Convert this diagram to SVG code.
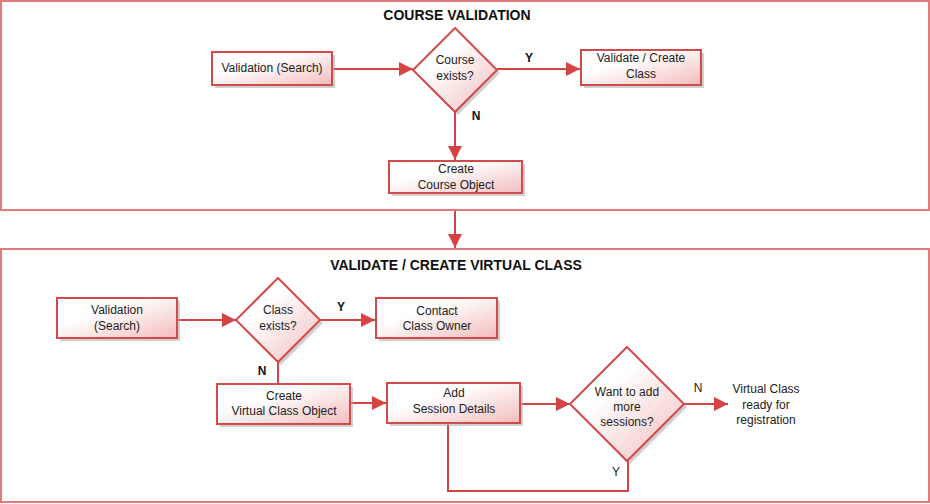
<svg xmlns="http://www.w3.org/2000/svg" width="930" height="504" viewBox="0 0 930 504">
<defs>
<linearGradient id="g" x1="0" y1="0" x2="1" y2="1">
<stop offset="0.35" stop-color="#ffffff"/>
<stop offset="1" stop-color="#f2bcbc"/>
</linearGradient>
<marker id="ah" markerUnits="userSpaceOnUse" markerWidth="16" markerHeight="16" viewBox="0 0 16 16" refX="15" refY="8" orient="auto">
<path d="M1,1 L15,8 L1,15 Z" fill="#d64343"/>
</marker>
<style>
.panel{fill:#ffffff;stroke:#e27a7a;stroke-width:2}
.box{fill:url(#g);stroke:#d24a4a;stroke-width:2}
.sh{fill:#b0b0b0;opacity:0.6}
.c{fill:none;stroke:#d64343;stroke-width:2}
.a{marker-end:url(#ah)}
text{font-family:"Liberation Sans",Arial,sans-serif;font-size:12px;fill:#222;text-anchor:middle}
.t{font-weight:bold;font-size:14px;fill:#111}
.lb{font-weight:bold;font-size:12px;fill:#111}
</style>
</defs>
<rect class="panel" x="1" y="1" width="928" height="209"/>
<rect class="panel" x="1" y="249" width="928" height="253"/>
<text class="t" x="457" y="20">COURSE VALIDATION</text>
<text class="t" x="456" y="270">VALIDATE / CREATE VIRTUAL CLASS</text>

<g id="connectors">
<line class="c a" x1="332" y1="69" x2="413" y2="69"/>
<line class="c a" x1="497" y1="69" x2="580" y2="69"/>
<line class="c a" x1="455" y1="112" x2="455" y2="160"/>
<line class="c a" x1="455" y1="211" x2="455" y2="248"/>
<line class="c a" x1="177" y1="320" x2="236" y2="320"/>
<line class="c a" x1="320" y1="320" x2="375" y2="320"/>
<line class="c" x1="278" y1="362" x2="278" y2="384"/>
<line class="c a" x1="350" y1="403" x2="386" y2="403"/>
<line class="c a" x1="520" y1="404" x2="570" y2="404"/>
<line class="c a" x1="684" y1="404" x2="728" y2="404"/>
<path class="c" d="M448,423 L448,491 L628,491 L628,461"/>
<text class="lb" x="529" y="62">Y</text>
<text class="lb" x="476" y="120">N</text>
<text class="lb" x="341" y="311">Y</text>
<text class="lb" x="262" y="375">N</text>
<text x="698" y="392">N</text>
<text x="616" y="476">Y</text>
</g>

<g id="n1">
<rect class="sh" x="215" y="55" width="120" height="33"/>
<rect class="box" x="212" y="52" width="120" height="33"/>
<text x="272" y="72">Validation (Search)</text>
</g>
<g id="d1">
<polygon class="sh" points="458,31 500,73 458,115 416,73"/>
<polygon class="box" points="455,28 497,70 455,112 413,70"/>
<text x="455" y="64">Course</text>
<text x="455" y="80">exists?</text>
</g>
<g id="n2">
<rect class="sh" x="584" y="53" width="120" height="35"/>
<rect class="box" x="581" y="50" width="120" height="35"/>
<text x="641" y="62">Validate / Create</text>
<text x="641" y="78">Class</text>
</g>
<g id="n3">
<rect class="sh" x="392" y="164" width="133" height="32"/>
<rect class="box" x="389" y="161" width="133" height="32"/>
<text x="456" y="173">Create</text>
<text x="456" y="189">Course Object</text>
</g>

<g id="n4">
<rect class="sh" x="60" y="301" width="120" height="40"/>
<rect class="box" x="57" y="298" width="120" height="40"/>
<text x="117" y="314">Validation</text>
<text x="117" y="330">(Search)</text>
</g>
<g id="d2">
<polygon class="sh" points="281,281 323,323 281,365 239,323"/>
<polygon class="box" points="278,278 320,320 278,362 236,320"/>
<text x="278" y="314">Class</text>
<text x="278" y="330">exists?</text>
</g>
<g id="n5">
<rect class="sh" x="379" y="301" width="121" height="40"/>
<rect class="box" x="376" y="298" width="121" height="40"/>
<text x="437" y="315">Contact</text>
<text x="437" y="330">Class Owner</text>
</g>
<g id="n6">
<rect class="sh" x="220" y="387" width="133" height="40"/>
<rect class="box" x="217" y="384" width="133" height="40"/>
<text x="284" y="400">Create</text>
<text x="284" y="415">Virtual Class Object</text>
</g>
<g id="n7">
<rect class="sh" x="390" y="386" width="133" height="40"/>
<rect class="box" x="387" y="383" width="133" height="40"/>
<text x="454" y="397">Add</text>
<text x="454" y="413">Session Details</text>
</g>
<g id="d3">
<polygon class="sh" points="630,350 687,407 630,464 573,407"/>
<polygon class="box" points="627,347 684,404 627,461 570,404"/>
<text x="627" y="396">Want to add</text>
<text x="627" y="411">more</text>
<text x="627" y="426">sessions?</text>
</g>
<g id="n8">
<text x="766" y="393">Virtual Class</text>
<text x="766" y="409">ready for</text>
<text x="766" y="424">registration</text>
</g>
</svg>
